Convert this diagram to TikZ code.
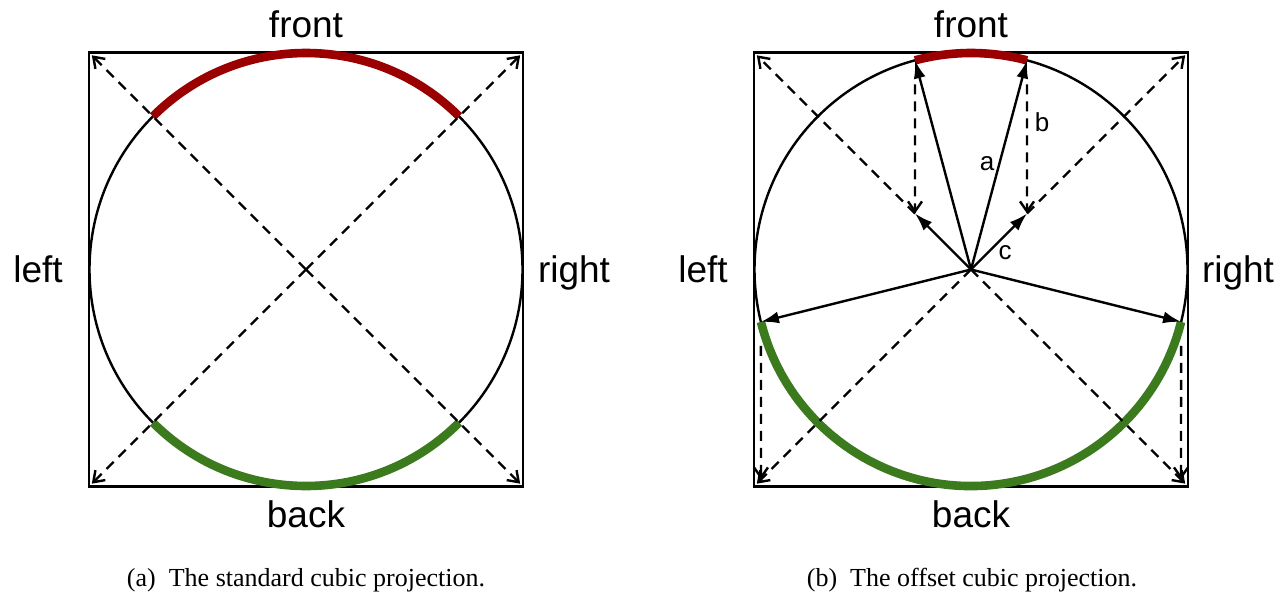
\documentclass[tikz,border=0pt]{standalone}
\usepackage{fontspec}
\setmainfont{Liberation Serif}
\newfontfamily\sflab{Liberation Sans}
\usetikzlibrary{arrows.meta}
\definecolor{frontred}{RGB}{155,0,0}
\definecolor{backgreen}{RGB}{60,122,30}
\begin{document}
\begin{tikzpicture}[x=0.5pt,y=0.5pt,
  frame/.style={line width=1.4pt},
  sphere/.style={line width=1.2pt},
  frontarc/.style={line width=4.3pt,frontred},
  backarc/.style={line width=4.3pt,backgreen},
  dashray/.style={line width=1.2pt,dash pattern=on 5pt off 3.5pt,-{Straight Barb[length=5pt,width=7pt,line width=1.2pt]}},
  solidray/.style={line width=1.2pt,-{Latex[length=9pt,width=6pt]}},
  side/.style={font=\sflab\fontsize{18.5}{22}\selectfont,anchor=base},
  vec/.style={font=\sflab\fontsize{13}{15}\selectfont},
  capt/.style={font=\fontsize{13}{15}\selectfont,anchor=base}]
\useasboundingbox (0,0) rectangle (1280,591);
% ---------- left panel ----------
\coordinate (L) at (306,321.5);
\coordinate (LNW) at (89,538.5);
\coordinate (LNE) at (523,538.5);
\coordinate (LSW) at (89,104.5);
\coordinate (LSE) at (523,104.5);
\draw[frame] (LSW) rectangle (LNE);
\draw[sphere] (L) circle[radius=216.5];
\draw[frontarc] ([shift={(45:216.5)}]L) arc[start angle=45,end angle=135,radius=216.5];
\draw[backarc] ([shift={(225:216.5)}]L) arc[start angle=225,end angle=315,radius=216.5];
\draw[dashray,shorten >=2pt] (L) -- (LNW);
\draw[dashray,shorten >=2pt] (L) -- (LNE);
\draw[dashray,shorten >=2pt] (L) -- (LSW);
\draw[dashray,shorten >=2pt] (L) -- (LSE);
\node[side] (lfront) at (306,554) {front};
\node[side] (lback) at (306,64) {back};
\node[side] (lleft) at (38,309) {left};
\node[side] (lright) at (574,309) {right};
\node[capt] (capa) at (306,5) {(a)\hspace{0.5em}The standard cubic projection.};
% ---------- right panel ----------
\coordinate (O) at (971,321.5);
\coordinate (RNW) at (754,538.5);
\coordinate (RNE) at (1188,538.5);
\coordinate (RSW) at (754,104.5);
\coordinate (RSE) at (1188,104.5);
\coordinate (F1) at ([shift={(105:216.5)}]O);
\coordinate (F2) at ([shift={(75:216.5)}]O);
\coordinate (G1) at ([shift={(194:216.5)}]O);
\coordinate (G2) at ([shift={(346:216.5)}]O);
\coordinate (C1) at ([shift={(135:79.2)}]O);
\coordinate (C2) at ([shift={(45:79.2)}]O);
\coordinate (D1) at ([shift={(225:297)}]O);
\coordinate (D2) at ([shift={(315:297)}]O);
\draw[frame] (RSW) rectangle (RNE);
\draw[sphere] (O) circle[radius=216.5];
\draw[frontarc] (F2) arc[start angle=75,end angle=105,radius=216.5];
\draw[backarc] (G1) arc[start angle=194,end angle=346,radius=216.5];
% dashed diagonals
\draw[dashray,shorten >=2pt] (C1) -- (RNW);
\draw[dashray,shorten >=2pt] (C2) -- (RNE);
\draw[dashray,shorten >=2pt] (O) -- (RSW);
\draw[dashray,shorten >=2pt] (O) -- (RSE);
% vertical dashed projections
\draw[dashray,shorten <=12pt] (F1) -- (C1);
\draw[dashray,shorten <=12pt] (F2) -- (C2);
\draw[dashray,shorten <=12pt] (G1) -- (D1);
\draw[dashray,shorten <=12pt] (G2) -- (D2);
% solid vectors
\draw[solidray] (O) -- (F1);
\draw[solidray] (O) -- (F2);
\draw[solidray] (O) -- (C1);
\draw[solidray] (O) -- (C2);
\draw[solidray] (O) -- (G1);
\draw[solidray] (O) -- (G2);
\node[vec] (la) at (987,427) {a};
\node[vec] (lb) at (1042,469) {b};
\node[vec] (lc) at (1005,338) {c};
\node[side] (rfront) at (971,554) {front};
\node[side] (rback) at (971,64) {back};
\node[side] (rleft) at (703,309) {left};
\node[side] (rright) at (1238,309) {right};
\node[capt] (capb) at (972,5) {(b)\hspace{0.5em}The offset cubic projection.};
\end{tikzpicture}
\end{document}
